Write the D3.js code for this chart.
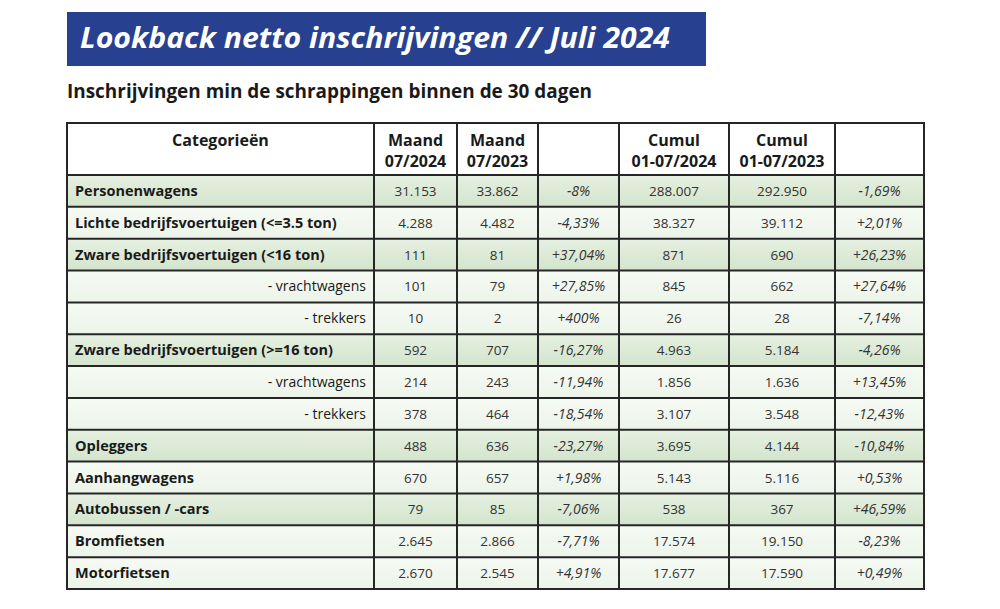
<!DOCTYPE html>
<html>
<head>
    <meta charset="UTF-8">
    <title>Lookback netto inschrijvingen</title>
    <style>
        body {
            margin: 0;
            background: #fff;
            font-family: 'Open Sans', 'Noto Sans', sans-serif;
        }
        .grid line {
            stroke: #262626;
            stroke-width: 2;
        }
        .num {
            font-size: 13.5px;
            fill: #333;
            text-anchor: middle;
        }
        .pct {
            font-style: italic;
            font-size: 14px;
        }
    </style>
</head>
<body>
<script src="https://cdn.jsdelivr.net/npm/d3@7"></script>
<script>
    /// data
    var categories = [
        "Personenwagens",
        "Lichte bedrijfsvoertuigen (<=3.5 ton)",
        "Zware bedrijfsvoertuigen (<16 ton)",
        "- vrachtwagens",
        "- trekkers",
        "Zware bedrijfsvoertuigen (>=16 ton)",
        "- vrachtwagens",
        "- trekkers",
        "Opleggers",
        "Aanhangwagens",
        "Autobussen / -cars",
        "Bromfietsen",
        "Motorfietsen"
    ];
    // 1 = hoofdcategorie, 0 = subcategorie
    var isMain = [1, 1, 1, 0, 0, 1, 0, 0, 1, 1, 1, 1, 1];
    // shaded rows (darker green)
    var shaded = [1, 0, 1, 0, 0, 1, 0, 0, 1, 0, 1, 0, 0];

    var maand2024 = ["31.153", "4.288", "111", "101", "10", "592", "214", "378", "488", "670", "79", "2.645", "2.670"];
    var maand2023 = ["33.862", "4.482", "81", "79", "2", "707", "243", "464", "636", "657", "85", "2.866", "2.545"];
    var maandPct = ["-8%", "-4,33%", "+37,04%", "+27,85%", "+400%", "-16,27%", "-11,94%", "-18,54%", "-23,27%", "+1,98%", "-7,06%", "-7,71%", "+4,91%"];
    var cumul2024 = ["288.007", "38.327", "871", "845", "26", "4.963", "1.856", "3.107", "3.695", "5.143", "538", "17.574", "17.677"];
    var cumul2023 = ["292.950", "39.112", "690", "662", "28", "5.184", "1.636", "3.548", "4.144", "5.116", "367", "19.150", "17.590"];
    var cumulPct = ["-1,69%", "+2,01%", "+26,23%", "+27,64%", "-7,14%", "-4,26%", "+13,45%", "-12,43%", "-10,84%", "+0,53%", "+46,59%", "-8,23%", "+0,49%"];

    var columnHeaders = [
        ["Categorieën"],
        ["Maand", "07/2024"],
        ["Maand", "07/2023"],
        [],
        ["Cumul", "01-07/2024"],
        ["Cumul", "01-07/2023"],
        []
    ];

    var title = "Lookback netto inschrijvingen // Juli 2024";
    var subtitle = "Inschrijvingen min de schrappingen binnen de 30 dagen";

    /// layout
    var width = 1000, height = 609;
    var colEdges = [67, 374, 457, 538, 619, 729, 835, 924];
    var tableTop = 123, headerBottom = 175, tableBottom = 589;

    var svg = d3.select("body").append("svg")
        .attr("width", width)
        .attr("height", height);

    var defs = svg.append("defs");
    function addGradient(id, c1, c2) {
        var g = defs.append("linearGradient").attr("id", id)
            .attr("x1", 0).attr("y1", 0).attr("x2", 0).attr("y2", 1);
        g.append("stop").attr("offset", "0%").attr("stop-color", c1);
        g.append("stop").attr("offset", "100%").attr("stop-color", c2);
    }
    addGradient("gDark", "#e6f0e1", "#d3e4cc");
    addGradient("gLight", "#f6faf4", "#ecf4e9");

    // title banner
    svg.append("rect")
        .attr("x", 67).attr("y", 12)
        .attr("width", 639).attr("height", 54)
        .attr("fill", "#27408f");
    svg.append("text")
        .attr("x", 80).attr("y", 48)
        .attr("fill", "#fff")
        .style("font-size", "28px")
        .style("font-weight", "bold")
        .style("font-style", "italic")
        .attr("textLength", 590)
        .attr("lengthAdjust", "spacingAndGlyphs")
        .text(title);

    svg.append("text")
        .attr("x", 67).attr("y", 98)
        .attr("fill", "#1a1a1a")
        .style("font-size", "19px")
        .style("font-weight", "bold")
        .attr("textLength", 525)
        .attr("lengthAdjust", "spacingAndGlyphs")
        .text(subtitle);

    // scales
    var y = d3.scaleBand()
        .domain(d3.range(categories.length))
        .range([headerBottom, tableBottom]);

    var cols = d3.range(colEdges.length - 1);
    var xLeft = d3.scaleOrdinal().domain(cols).range(colEdges.slice(0, -1));
    var xRight = d3.scaleOrdinal().domain(cols).range(colEdges.slice(1));
    function xMid(i) { return (xLeft(i) + xRight(i)) / 2; }

    var table = svg.append("g");

    // header background
    table.append("rect")
        .attr("x", colEdges[0]).attr("y", tableTop)
        .attr("width", colEdges[colEdges.length - 1] - colEdges[0])
        .attr("height", headerBottom - tableTop)
        .attr("fill", "#fff");

    // row backgrounds
    table.selectAll("rect.row")
        .data(categories)
        .enter().append("rect")
        .attr("class", "row")
        .attr("x", colEdges[0])
        .attr("y", function(d, i) { return y(i); })
        .attr("width", colEdges[colEdges.length - 1] - colEdges[0])
        .attr("height", y.bandwidth())
        .attr("fill", function(d, i) { return shaded[i] ? "url(#gDark)" : "url(#gLight)"; });

    // header texts
    columnHeaders.forEach(function(lines, c) {
        var t = table.append("text")
            .attr("x", xMid(c))
            .attr("text-anchor", "middle")
            .attr("fill", "#1a1a1a")
            .style("font-size", "16px")
            .style("font-weight", "bold");
        lines.forEach(function(l, k) {
            t.append("tspan").attr("x", xMid(c)).attr("y", 146 + k * 21).text(l);
        });
    });

    // category labels
    table.selectAll("text.cat")
        .data(categories)
        .enter().append("text")
        .attr("class", "cat")
        .attr("x", function(d, i) { return isMain[i] ? xLeft(0) + 8 : xRight(0) - 8; })
        .attr("y", function(d, i) { return y(i) + y.bandwidth() / 2 + 5; })
        .attr("text-anchor", function(d, i) { return isMain[i] ? "start" : "end"; })
        .attr("fill", "#1a1a1a")
        .style("font-size", function(d, i) { return isMain[i] ? "14.5px" : "14px"; })
        .style("font-weight", function(d, i) { return isMain[i] ? "bold" : "normal"; })
        .text(function(d) { return d; });

    // value columns
    var valueCols = [maand2024, maand2023, maandPct, cumul2024, cumul2023, cumulPct];
    valueCols.forEach(function(vals, k) {
        var c = k + 1;
        var isPct = (k === 2 || k === 5);
        table.selectAll("text.v" + c)
            .data(vals)
            .enter().append("text")
            .attr("class", "num v" + c + (isPct ? " pct" : ""))
            .attr("x", xMid(c))
            .attr("y", function(d, i) { return y(i) + y.bandwidth() / 2 + 5; })
            .text(function(d) { return d; });
    });

    // grid
    var grid = table.append("g").attr("class", "grid");
    var hLines = [tableTop, headerBottom].concat(d3.range(1, categories.length).map(function(i) { return y(i); })).concat([tableBottom]);
    grid.selectAll("line.h")
        .data(hLines)
        .enter().append("line")
        .attr("x1", colEdges[0]).attr("x2", colEdges[colEdges.length - 1])
        .attr("y1", function(d) { return d; }).attr("y2", function(d) { return d; });
    grid.selectAll("line.v")
        .data(colEdges)
        .enter().append("line")
        .attr("x1", function(d) { return d; }).attr("x2", function(d) { return d; })
        .attr("y1", tableTop - 1).attr("y2", tableBottom + 1);
</script>
</body>
</html>
